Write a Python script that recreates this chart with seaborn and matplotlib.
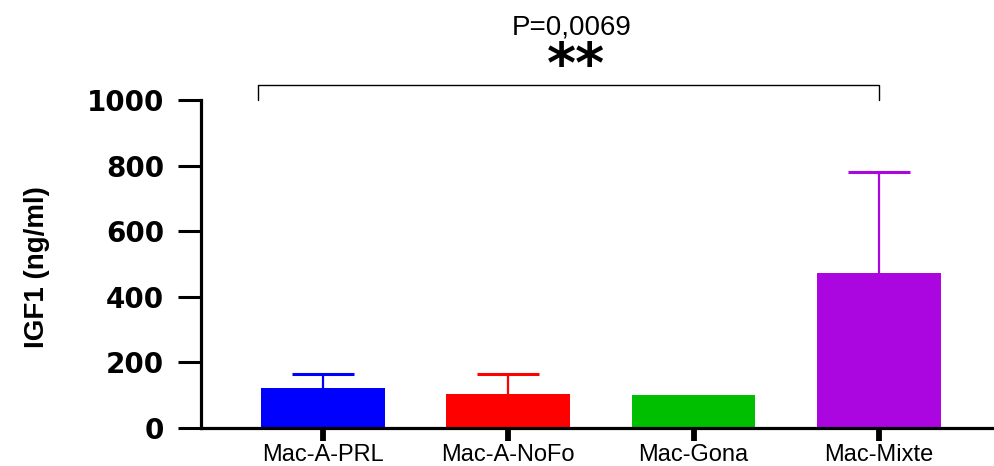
import numpy as np
import pandas as pd
import matplotlib
matplotlib.use("Agg")
import matplotlib.pyplot as plt
import seaborn as sns

# Group means and standard deviations of IGF1 (ng/ml)
groups = ["Mac-A-PRL", "Mac-A-NoFo", "Mac-Gona", "Mac-Mixte"]
means = [122, 103, 99, 471]
sds = [42, 61, 0, 308]
colors = ["#0000FF", "#FF0000", "#00BF00", "#AC06E0"]

y_ticks = [0, 200, 400, 600, 800, 1000]
p_text = "P=0,0069"
stars = "**"
compare = (0, 3)  # groups joined by the significance bracket

sns.set_theme(style="ticks")
plt.rcParams["font.family"] = ["Liberation Sans", "DejaVu Sans"]
plt.rcParams["text.color"] = "black"
plt.rcParams["axes.labelcolor"] = "black"
plt.rcParams["xtick.color"] = "black"
plt.rcParams["ytick.color"] = "black"

df = pd.DataFrame({"group": groups, "igf1": means})

fig = plt.figure(figsize=(9.95, 4.66), dpi=100)
ax = fig.add_axes([201 / 995, 1 - 427.7 / 466, 1 - 201 / 995, (427.7 - 100) / 466])

sns.barplot(data=df, x="group", y="igf1", hue="group", palette=colors,
            saturation=1, width=0.667, errorbar=None, legend=False, ax=ax,
            edgecolor="none")

# Upward-only SD error bars in the colour of each bar
for i, (m, s, c) in enumerate(zip(means, sds, colors)):
    if s > 0:
        _, caps, _ = ax.errorbar(i, m, yerr=[[0], [s]], fmt="none", ecolor=c,
                                 elinewidth=1.6, capsize=22, capthick=2.2,
                                 zorder=3)
        for cap in caps:
            if np.allclose(cap.get_ydata(), m):
                cap.set_visible(False)

ax.set_xlim(-0.658, 3.627)
ax.set_ylim(0, 1000)
ax.set_yticks(y_ticks)
ax.set_yticklabels([str(v) for v in y_ticks], fontsize=20, fontweight="heavy",
                   family="DejaVu Sans")
ax.tick_params(axis="y", length=16.5, width=2.2, pad=10)
ax.tick_params(axis="x", length=9, width=4.2, pad=3, labelsize=17)

sns.despine(ax=ax, top=True, right=True)
for side in ("left", "bottom"):
    ax.spines[side].set_linewidth(2.3)
    ax.spines[side].set_color("black")

ax.set_xlabel("")
ax.set_ylabel("IGF1 (ng/ml)", fontsize=20, fontweight="bold")
ax.yaxis.set_label_coords(-0.19, 0.49)

# Significance bracket between the compared groups
x0 = compare[0] - 0.35
x1 = compare[1]
y_leg, y_top = 1000, 1046
ax.plot([x0, x0, x1, x1], [y_leg, y_top, y_top, y_leg], color="black",
        lw=1.0, clip_on=False)
xm = (x0 + x1) / 2
ax.text(xm + 0.015, 1222, p_text, ha="center", va="center", fontsize=20,
        clip_on=False)
ax.text(xm + 0.04, 1100, stars, ha="center", va="center", fontsize=40,
        fontweight="bold", family="DejaVu Sans", clip_on=False)

fig.savefig("out.png", dpi=100)
